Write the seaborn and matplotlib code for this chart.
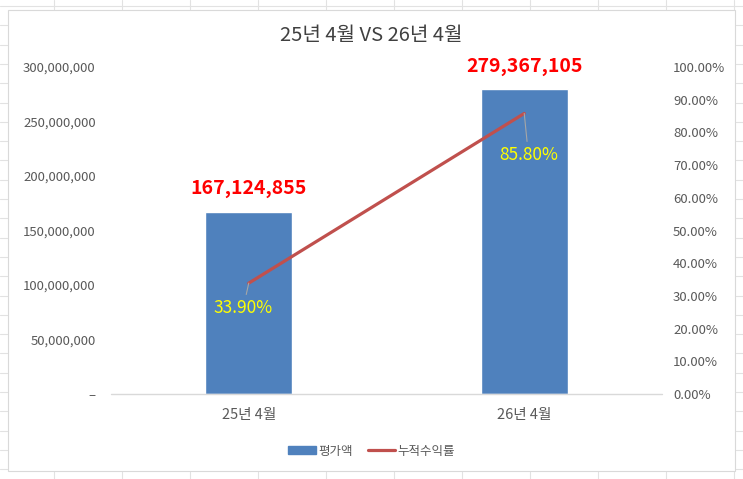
import matplotlib
matplotlib.use('Agg')
import matplotlib.pyplot as plt
from matplotlib.patches import Rectangle
from matplotlib.ticker import FuncFormatter, MultipleLocator
import numpy as np
import pandas as pd
import seaborn as sns

# 데이터
categories = ['25년 4월', '26년 4월']
valuation = [167124855, 279367105]      # 평가액
cum_return = [0.339, 0.858]             # 누적수익률
title = '25년 4월 VS 26년 4월'

df = pd.DataFrame({'month': categories, 'value': valuation, 'ret': cum_return})

sns.set_style('white')
plt.rcParams['font.family'] = ['Noto Sans CJK KR', 'DejaVu Sans']

W, H = 743, 479
fig = plt.figure(figsize=(W / 100, H / 100), dpi=100)

# 엑셀 시트 배경 격자
bg = fig.add_axes([0, 0, 1, 1], zorder=-10)
bg.set_xlim(0, W)
bg.set_ylim(H, 0)
bg.axis('off')
for x in np.arange(54 - 68, W + 68, 68):
    bg.axvline(x, color='#e2e2e2', lw=0.8, zorder=1)
for y in np.arange(6, H + 20, 19.3):
    bg.axhline(y, color='#e2e2e2', lw=0.8, zorder=1)
bg.add_patch(Rectangle((8, 10), 727, 461, facecolor='white', edgecolor='#d9d9d9', lw=0.8, zorder=5))

# 메인 차트
ax = fig.add_axes([111 / W, 85 / H, 551 / W, 327 / H])
ax.set_facecolor('none')
sns.barplot(data=df, x='month', y='value', color='#4f81bd', saturation=1, width=0.315, ax=ax)
ax.set_xlim(-0.5, 1.5)
ax.set_ylim(0, 300_000_000)
ax.yaxis.set_major_locator(MultipleLocator(50_000_000))
ax.yaxis.set_major_formatter(FuncFormatter(lambda v, p: '–' if v == 0 else f'{v:,.0f}'))
ax.set_xlabel('')
ax.set_ylabel('')
ax.tick_params(axis='y', length=0, pad=11, labelsize=9.5, labelcolor='#595959')
ax.tick_params(axis='x', length=0, pad=10, labelsize=10.5, labelcolor='#595959')
for s in ax.spines.values():
    s.set_visible(False)
ax.axhline(0, color='#d9d9d9', lw=1, zorder=1, clip_on=False)

for i, v in enumerate(valuation):
    ax.annotate(f'{v:,}', xy=(i, v), xytext=(0, 16.5), textcoords='offset points',
                ha='center', va='center', color='#ff0000', fontsize=14, fontweight='bold')

# 누적수익률 (보조축)
ax2 = ax.twinx()
sns.lineplot(x=np.arange(len(categories)), y=cum_return, color='#c0504d', lw=2.3, ax=ax2)
ax2.set_ylim(0, 1)
ax2.yaxis.set_major_locator(MultipleLocator(0.1))
ax2.yaxis.set_major_formatter(FuncFormatter(lambda v, p: f'{v:.2%}'))
ax2.tick_params(axis='y', length=0, pad=8, labelsize=9.5, labelcolor='#595959')
for s in ax2.spines.values():
    s.set_visible(False)
ax.set_xlim(-0.5, 1.5)

offsets = [(-4, -18), (3, -30)]
for i, r in enumerate(cum_return):
    ax2.annotate(f'{r:.2%}', xy=(i, r), xytext=offsets[i], textcoords='offset points',
                 ha='center', va='center', color='#ffff00', fontsize=12.5,
                 arrowprops=dict(arrowstyle='-', color='#a6a6a6', lw=0.8, shrinkA=1, shrinkB=0))

fig.suptitle(title, x=0.5, y=1 - 36 / H, va='center', fontsize=14.5, color='#404040')

# 범례
handles = [Rectangle((0, 0), 1, 1, color='#4f81bd'),
           plt.Line2D([0], [0], color='#c0504d', lw=2.3)]
fig.legend(handles, ['평가액', '누적수익률'], loc='center', bbox_to_anchor=(0.5, 1 - 451 / H),
           ncol=2, frameon=False, fontsize=9, labelcolor='#595959',
           handlelength=2.2, handleheight=0.6, handletextpad=0.2, columnspacing=1.2)

fig.savefig('out.png', dpi=100)
